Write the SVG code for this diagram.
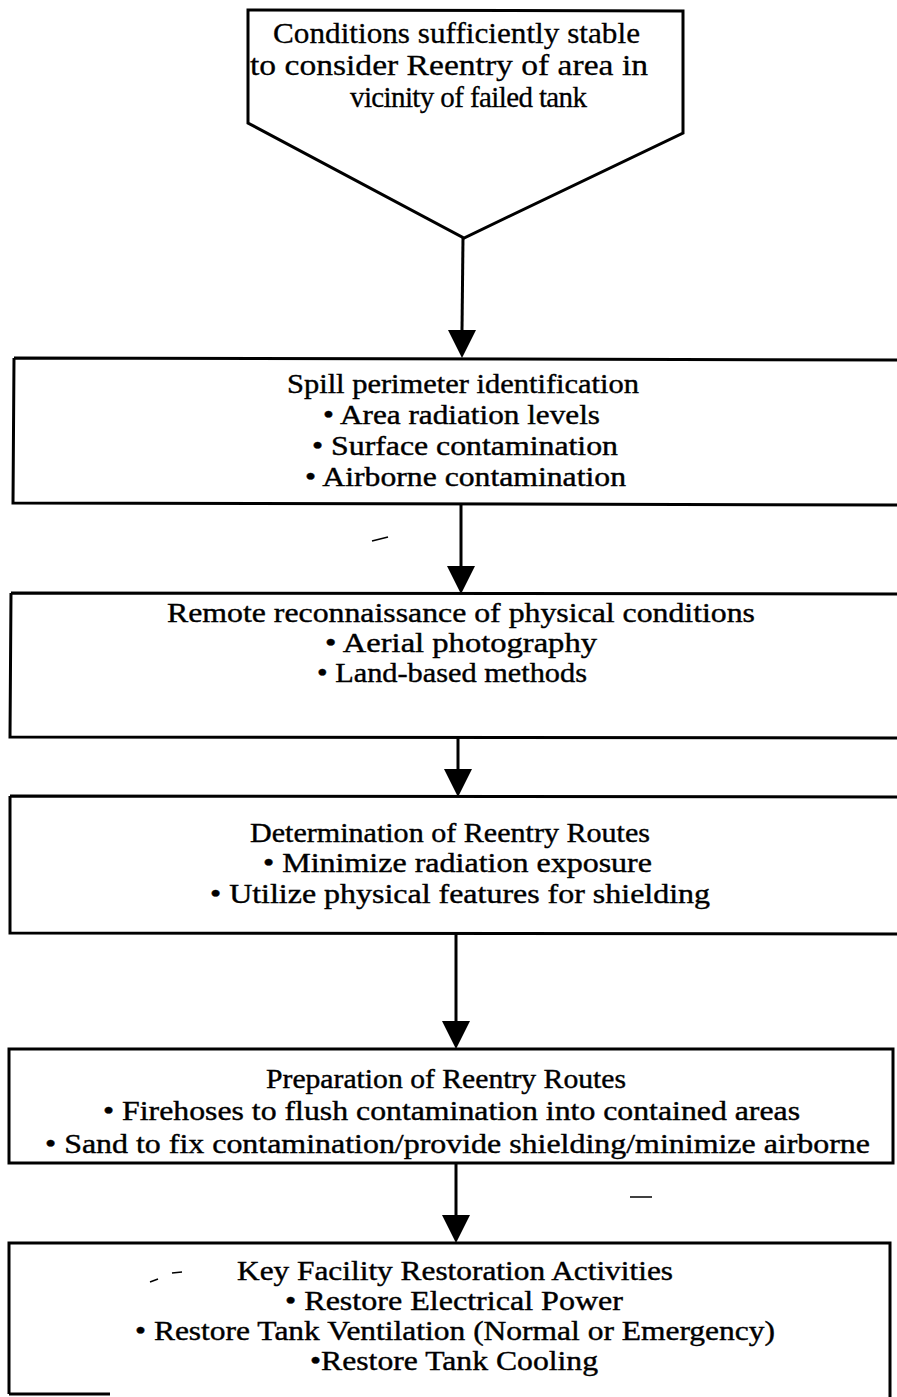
<svg xmlns="http://www.w3.org/2000/svg" width="897" height="1397" viewBox="0 0 897 1397">
<style>
.bg{fill:#ffffff}
.shape{fill:none;stroke:#000;stroke-width:3;stroke-linejoin:miter}
.conn{stroke:#000;stroke-width:3;fill:none}
.t{font-family:"Liberation Serif","Times New Roman",serif;font-size:27px;fill:#000;stroke:#000;stroke-width:0.4}
.tp{font-family:"Liberation Serif","Times New Roman",serif;font-size:29px;fill:#000;stroke:#000;stroke-width:0.3}
.mark{stroke:#000;stroke-width:1.5;fill:none}
</style>
<defs>
<marker id="ah" markerUnits="userSpaceOnUse" markerWidth="28" markerHeight="28" refX="14" refY="28" orient="auto" viewBox="0 0 28 28">
<path d="M0,0 L28,0 L14,28 Z" fill="#000"/>
</marker>
</defs>
<rect class="bg" x="0" y="0" width="897" height="1397"/>

<g id="connectors">
<line class="conn" x1="463" y1="238" x2="462" y2="330"/>
<path d="M448,330 L476,330 L462,358 Z" fill="#000"/>
<line class="conn" x1="461" y1="503" x2="461" y2="566"/>
<path d="M447,566 L475,566 L461,594 Z" fill="#000"/>
<line class="conn" x1="458" y1="737" x2="458" y2="769"/>
<path d="M444,769 L472,769 L458,797 Z" fill="#000"/>
<line class="conn" x1="456" y1="933" x2="456" y2="1021"/>
<path d="M442,1021 L470,1021 L456,1049 Z" fill="#000"/>
<line class="conn" x1="456" y1="1163" x2="456" y2="1215"/>
<path d="M442,1215 L470,1215 L456,1243 Z" fill="#000"/>
</g>

<g id="n0">
<path class="shape" d="M248,10 L683,11 L683,133 L464,238 L248,123 Z"/>
<text class="tp" x="273" y="43" textLength="367" lengthAdjust="spacingAndGlyphs">Conditions sufficiently stable</text>
<text class="tp" x="250" y="75" textLength="398" lengthAdjust="spacingAndGlyphs">to consider Reentry of area in</text>
<text class="tp" x="350" y="107" textLength="237" lengthAdjust="spacing">vicinity of failed tank</text>
</g>

<g id="n1">
<path class="shape" d="M14,358 L900,360 M14,358 L13,503 L900,505"/>
<text class="t" x="287" y="393" textLength="352" lengthAdjust="spacingAndGlyphs">Spill perimeter identification</text>
<text class="t" x="323" y="424" textLength="277" lengthAdjust="spacingAndGlyphs">•  Area radiation levels</text>
<text class="t" x="312" y="455" textLength="306" lengthAdjust="spacingAndGlyphs">•  Surface contamination</text>
<text class="t" x="305" y="486" textLength="321" lengthAdjust="spacingAndGlyphs">•  Airborne contamination</text>
</g>

<g id="n2">
<path class="shape" d="M11,593 L900,594 M11,593 L10,737 L900,738"/>
<text class="t" x="167" y="622" textLength="588" lengthAdjust="spacingAndGlyphs">Remote reconnaissance of physical conditions</text>
<text class="t" x="325" y="652" textLength="272" lengthAdjust="spacingAndGlyphs">•  Aerial photography</text>
<text class="t" x="317" y="682" textLength="270" lengthAdjust="spacingAndGlyphs">•  Land-based methods</text>
</g>

<g id="n3">
<path class="shape" d="M10,796 L900,797 M10,796 L10,933 L900,934"/>
<text class="t" x="250" y="842" textLength="400" lengthAdjust="spacingAndGlyphs">Determination of Reentry Routes</text>
<text class="t" x="263" y="872" textLength="389" lengthAdjust="spacingAndGlyphs">•  Minimize radiation exposure</text>
<text class="t" x="210" y="903" textLength="500" lengthAdjust="spacingAndGlyphs">•  Utilize physical features for shielding</text>
</g>

<g id="n4">
<rect class="shape" x="9" y="1049" width="884" height="114"/>
<text class="t" x="266" y="1088" textLength="360" lengthAdjust="spacingAndGlyphs">Preparation of Reentry Routes</text>
<text class="t" x="103" y="1120" textLength="697" lengthAdjust="spacingAndGlyphs">•  Firehoses to flush contamination into contained areas</text>
<text class="t" x="45" y="1153" textLength="825" lengthAdjust="spacingAndGlyphs">•  Sand to fix contamination/provide shielding/minimize airborne</text>
</g>

<g id="n5">
<path class="shape" d="M9,1394 L9,1243 L890,1243 L890,1397 M9,1394 L110,1394"/>
<text class="t" x="237" y="1280" textLength="436" lengthAdjust="spacingAndGlyphs">Key Facility Restoration Activities</text>
<text class="t" x="285" y="1310" textLength="338" lengthAdjust="spacingAndGlyphs">•  Restore Electrical Power</text>
<text class="t" x="135" y="1340" textLength="640" lengthAdjust="spacingAndGlyphs">•  Restore Tank Ventilation (Normal or Emergency)</text>
<text class="t" x="310" y="1370" textLength="288" lengthAdjust="spacingAndGlyphs">•Restore Tank Cooling</text>
</g>

<g id="marks">
<line class="mark" x1="630" y1="1197" x2="652" y2="1197"/>
<line class="mark" x1="150" y1="1282" x2="158" y2="1279"/>
<line class="mark" x1="172" y1="1273" x2="182" y2="1272"/>
<line class="mark" x1="372" y1="541" x2="388" y2="537"/>
</g>
</svg>
